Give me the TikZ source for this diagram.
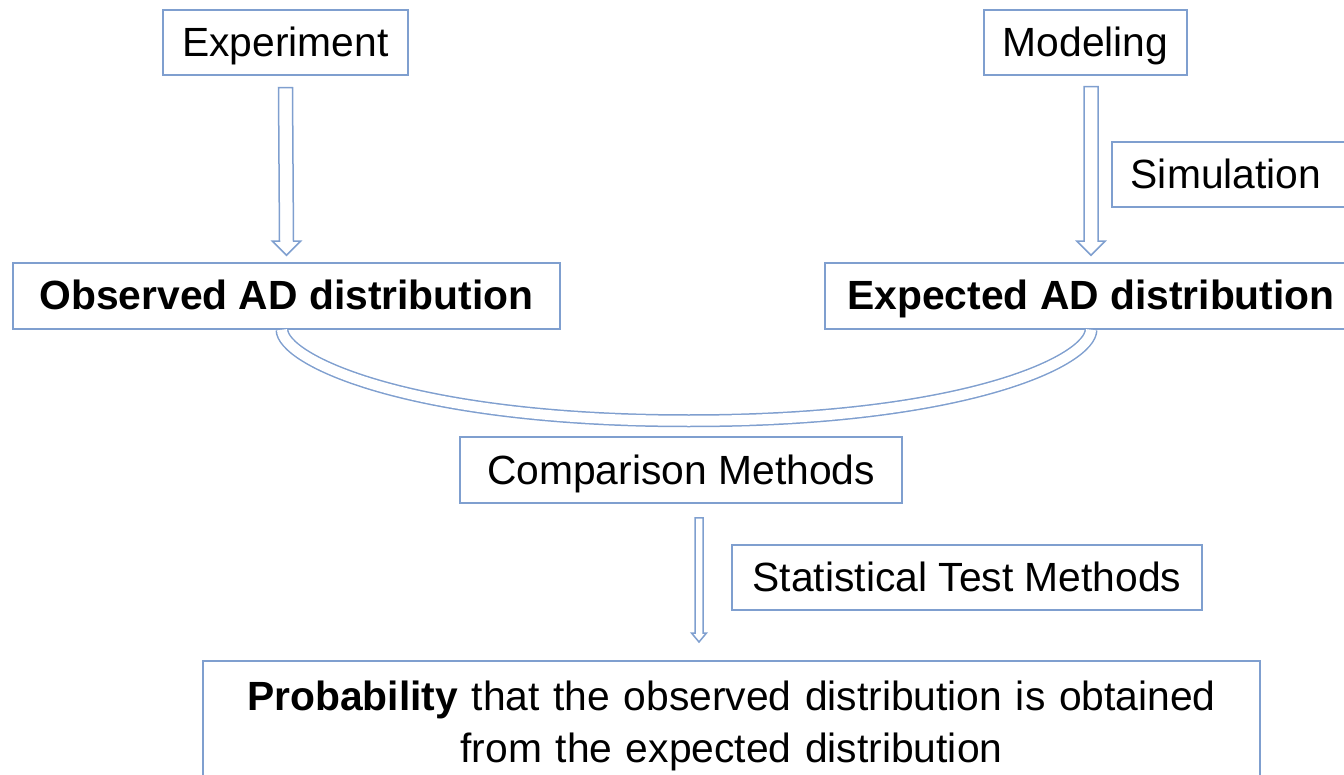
\documentclass[tikz,border=0pt]{standalone}
\usepackage{fontspec}
\setmainfont{Liberation Sans}
\usetikzlibrary{calc}
\definecolor{edge}{HTML}{7F9FCF}
\tikzset{box/.style={draw=edge,line width=.75pt,minimum height=32.5pt,inner sep=0pt,
    text height=15.6pt,text depth=1.6pt,font=\fontsize{20.4}{26}\selectfont},
  hollow/.style n args={3}{draw=edge,line width=.75pt,line join=miter,
    to path={($(\tikztostart)+(-#1,0)$) -- ($(\tikztotarget)+(-#1,-#3)$)
      -- ($(\tikztotarget)+(-#2,-#3)$) -- (\tikztotarget)
      -- ($(\tikztotarget)+(#2,-#3)$) -- ($(\tikztotarget)+(#1,-#3)$)
      -- ($(\tikztostart)+(#1,0)$) -- cycle}},
  twinline/.style={draw=edge,line width=.75pt,double=white,double distance=5pt}}

\begin{document}
\begin{tikzpicture}[x=.5pt,y=-.5pt]
\useasboundingbox (0,0) rectangle (1344,775);
\clip (0,0) rectangle (1344,775);
% top row
\node[box,minimum width=122.5pt] (exp) at (285.5,42.5) {Experiment};
\node[box,minimum width=101.5pt] (mod) at (1085.5,42.5) {Modeling};
\node[box,anchor=west,text width=105.5pt,align=left,inner xsep=9.5pt] (sim) at (1111,174.5) {Simulation};
% distributions
\node[box,minimum width=273.5pt,minimum height=33pt] (obs) at (286.5,296) {\textbf{Observed AD distribution}};
\node[box,minimum width=266pt,minimum height=33pt] (expd) at (1091,296) {\textbf{Expected AD distribution}};
% comparison
\node[box,minimum width=221pt,minimum height=33pt] (cmp) at (681,470) {Comparison Methods};
\node[box,minimum width=235pt] (stat) at (967,577.5) {Statistical Test Methods};
\node[draw=edge,line width=.75pt,anchor=north,minimum width=528.5pt,text width=500pt,
  align=center,inner xsep=0pt,inner ysep=10pt,font=\fontsize{20.4}{26}\selectfont] (prob) at (731.5,660)
  {\textbf{Probability} that the observed distribution is obtained\\from the expected distribution};
% arrows
\draw[hollow={7}{14}{14}] ([yshift=-6pt]exp.south) to ([yshift=3.5pt]obs.north);
\draw[hollow={7}{14}{14}] ([xshift=2.75pt,yshift=-5.5pt]mod.south) to ([yshift=3.5pt]expd.north);
\coordinate (low) at ($(obs.south)!.5!(expd.south)+(0,91)$);
\draw[twinline] ([xshift=-2.25pt]obs.south) .. controls +(0,30) and +(-280,0) .. (low)
  .. controls +(280,0) and +(0,30) .. (expd.south);
\draw[hollow={4}{7.5}{9}] ([xshift=9pt,yshift=-7pt]cmp.south) to ([xshift=-16.25pt,yshift=9pt]prob.north);
\end{tikzpicture}
\end{document}
